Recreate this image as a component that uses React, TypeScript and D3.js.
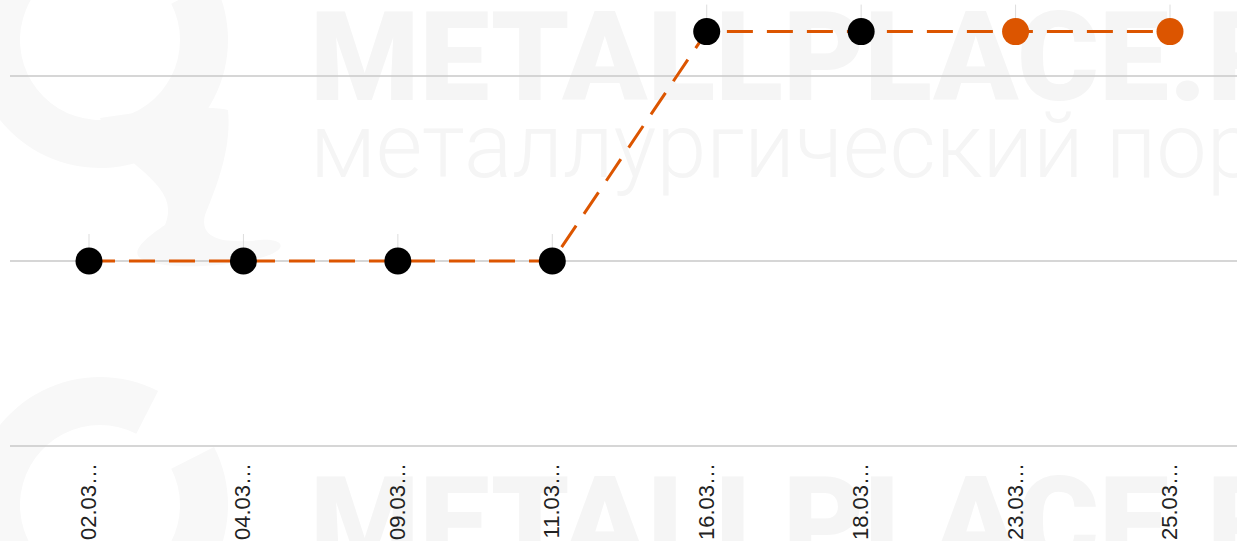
import React from "react";
import * as d3 from "d3";

const categories = ["02.03…", "04.03…", "09.03…", "11.03…", "16.03…", "18.03…", "23.03…", "25.03…"];
const values = [450, 450, 450, 450, 512, 512, 512, 512];
const forecast = [false, false, false, false, false, false, true, true];
const gridValues = [400, 450, 500];

const W = 1237;
const H = 541;

export default function App() {
  const x = d3.scalePoint<string>().domain(categories).range([89, 1170]).padding(0);
  const y = d3.scaleLinear().domain([400, 500]).range([446, 76]);
  const pts = categories.map((c, i) => ({ c, v: values[i], f: forecast[i] }));
  const line = d3
    .line<{ c: string; v: number }>()
    .x((d) => x(d.c) as number)
    .y((d) => y(d.v));

  const ring = d3.arc()({
    innerRadius: 80,
    outerRadius: 128,
    startAngle: 0.35 * Math.PI,
    endAngle: 2.15 * Math.PI,
  } as any) as string;

  const watermark = (dy: number, key: string) => (
    <g key={key} transform={`translate(0,${dy})`}>
      <g fill="#f8f8f8">
        <path d={ring} transform="translate(100,40)" />
        <path d="M100,118 C150,110 210,105 228,110 C232,150 215,190 205,215 C200,235 215,245 260,240 C285,238 290,250 260,258 C220,268 160,270 140,258 C130,250 150,235 165,225 C175,200 160,185 130,160 C115,148 105,132 100,118 Z" />
      </g>
      <g fill="#f5f5f5">
        <text x={310} y={100} fontFamily="Roboto, sans-serif" fontWeight={900} fontSize={125}>
          METALLPLACE.RU
        </text>
        <text x={310} y={177} fontFamily="Roboto, sans-serif" fontWeight={300} fontSize={90}>
          металлургический портал
        </text>
      </g>
    </g>
  );

  return (
    <svg
      width={W}
      height={H}
      style={{ position: "absolute", left: 0, top: 0, display: "block", background: "#fff" }}
    >
      {watermark(0, "w1")}
      {watermark(465, "w2")}
      <g>
        {gridValues.map((g) => (
          <line key={g} x1={10} x2={W} y1={y(g)} y2={y(g)} stroke="#c8c8c8" strokeWidth={1.5} />
        ))}
      </g>
      <g>
        {pts.map((p) => (
          <line
            key={"t" + p.c}
            x1={x(p.c)}
            x2={x(p.c)}
            y1={y(p.v) - 27}
            y2={y(p.v)}
            stroke="#dddddd"
            strokeWidth={1}
          />
        ))}
      </g>
      <path
        d={line(pts) as string}
        fill="none"
        stroke="#dc5500"
        strokeWidth={3}
        strokeDasharray="26,14"
      />
      <g>
        {pts.map((p) => (
          <circle key={"c" + p.c} cx={x(p.c)} cy={y(p.v)} r={13.5} fill={p.f ? "#dc5500" : "#000000"} />
        ))}
      </g>
      <g>
        {categories.map((c) => (
          <text
            key={"l" + c}
            transform={`translate(${(x(c) as number) + 7},463) rotate(-90)`}
            textAnchor="end"
            fontFamily="'Liberation Sans', Arial, sans-serif"
            fontSize={22}
            fill="#222"
          >
            {c}
          </text>
        ))}
      </g>
    </svg>
  );
}
